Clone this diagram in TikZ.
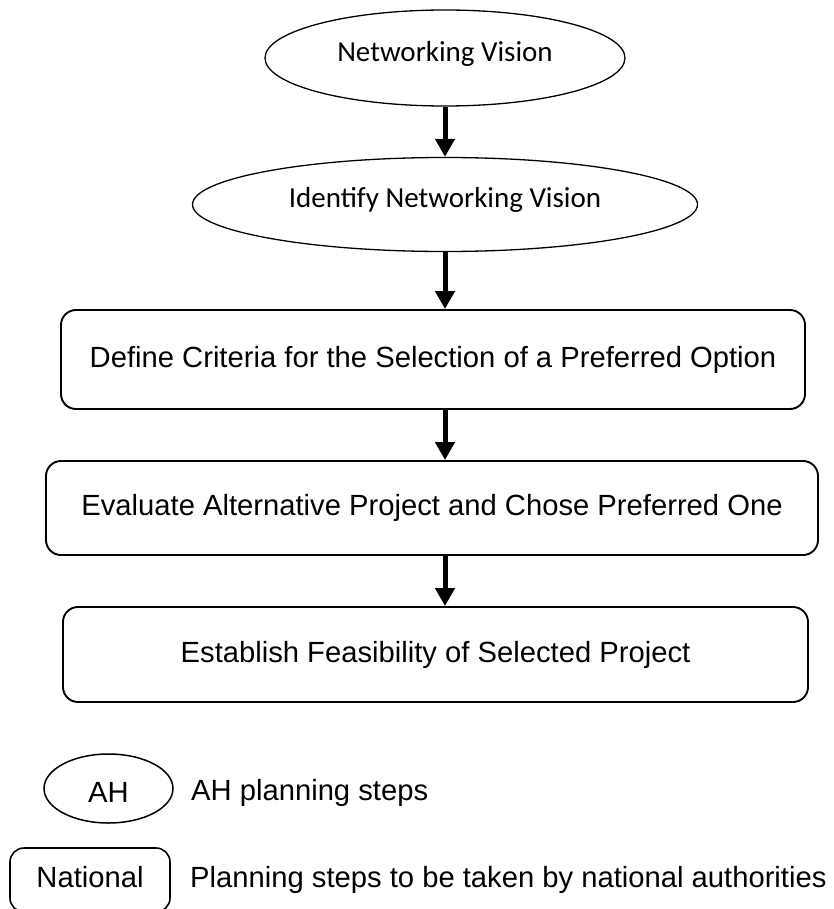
\documentclass[tikz,border=0pt]{standalone}
\usepackage{fontspec}
\setmainfont{Liberation Sans}
\newfontfamily\calibfont{Carlito}
\usetikzlibrary{shapes.geometric,arrows.meta}
\begin{document}
\begin{tikzpicture}[x=1pt,y=-1pt,
  bigtext/.style={font=\fontsize{29.2pt}{34pt}\selectfont},
  ellnode/.style={ellipse,draw,line width=1.3pt,inner sep=0pt,
    font=\calibfont\fontsize{29pt}{34pt}\selectfont,
    text height=20pt,text depth=13pt},
  stepbox/.style={rectangle,draw,line width=1.9pt,rounded corners=15pt,inner sep=0pt,
    bigtext,text height=21pt,text depth=6pt},
  arr/.style={line width=5pt,-{Triangle[width=19pt,length=18pt]}},
  legtext/.style={bigtext,anchor=base west,inner sep=0pt}
]
\useasboundingbox (0,0) rectangle (833,909);
\coordinate (ax) at (445,0);

\node[ellnode,minimum width=360pt,minimum height=96pt] (E1) at (445,58) {Networking Vision};
\node[ellnode,minimum width=505pt,minimum height=94pt] (E2) at (445,204.5) {Identify Networking Vision};
\node[stepbox,minimum width=744pt,minimum height=99pt] (B1) at (433,359.5) {Define Criteria for the Selection of a Preferred Option};
\node[stepbox,minimum width=772pt,minimum height=94pt] (B2) at (432,508) {Evaluate Alternative Project and Chose Preferred One};
\node[stepbox,minimum width=745pt,minimum height=95pt] (B3) at (435.5,654.5) {Establish Feasibility of Selected Project};

\draw[arr] (E1.south) -- (E2.north);
\draw[arr] (E2.south) -- (B1.north -| ax);
\draw[arr] (B1.south -| ax) -- (B2.north -| ax);
\draw[arr] (B2.south -| ax) -- (B3.north -| ax);

% legend
\node[ellipse,draw,line width=1.5pt,inner sep=0pt,minimum width=129pt,minimum height=69pt,
  bigtext,text height=27pt,text depth=0pt] (LE) at (108.5,788.5) {AH};
\node[legtext] (LEt) at (191,800) {AH planning steps};
\node[rectangle,draw,line width=1.6pt,rounded corners=14pt,inner sep=0pt,
  minimum width=160pt,minimum height=64pt,bigtext,text height=21pt,text depth=6pt] (LB) at (90,880) {National};
\node[legtext] (LBt) at (190,887) {Planning steps to be taken by national authorities};
\end{tikzpicture}
\end{document}
